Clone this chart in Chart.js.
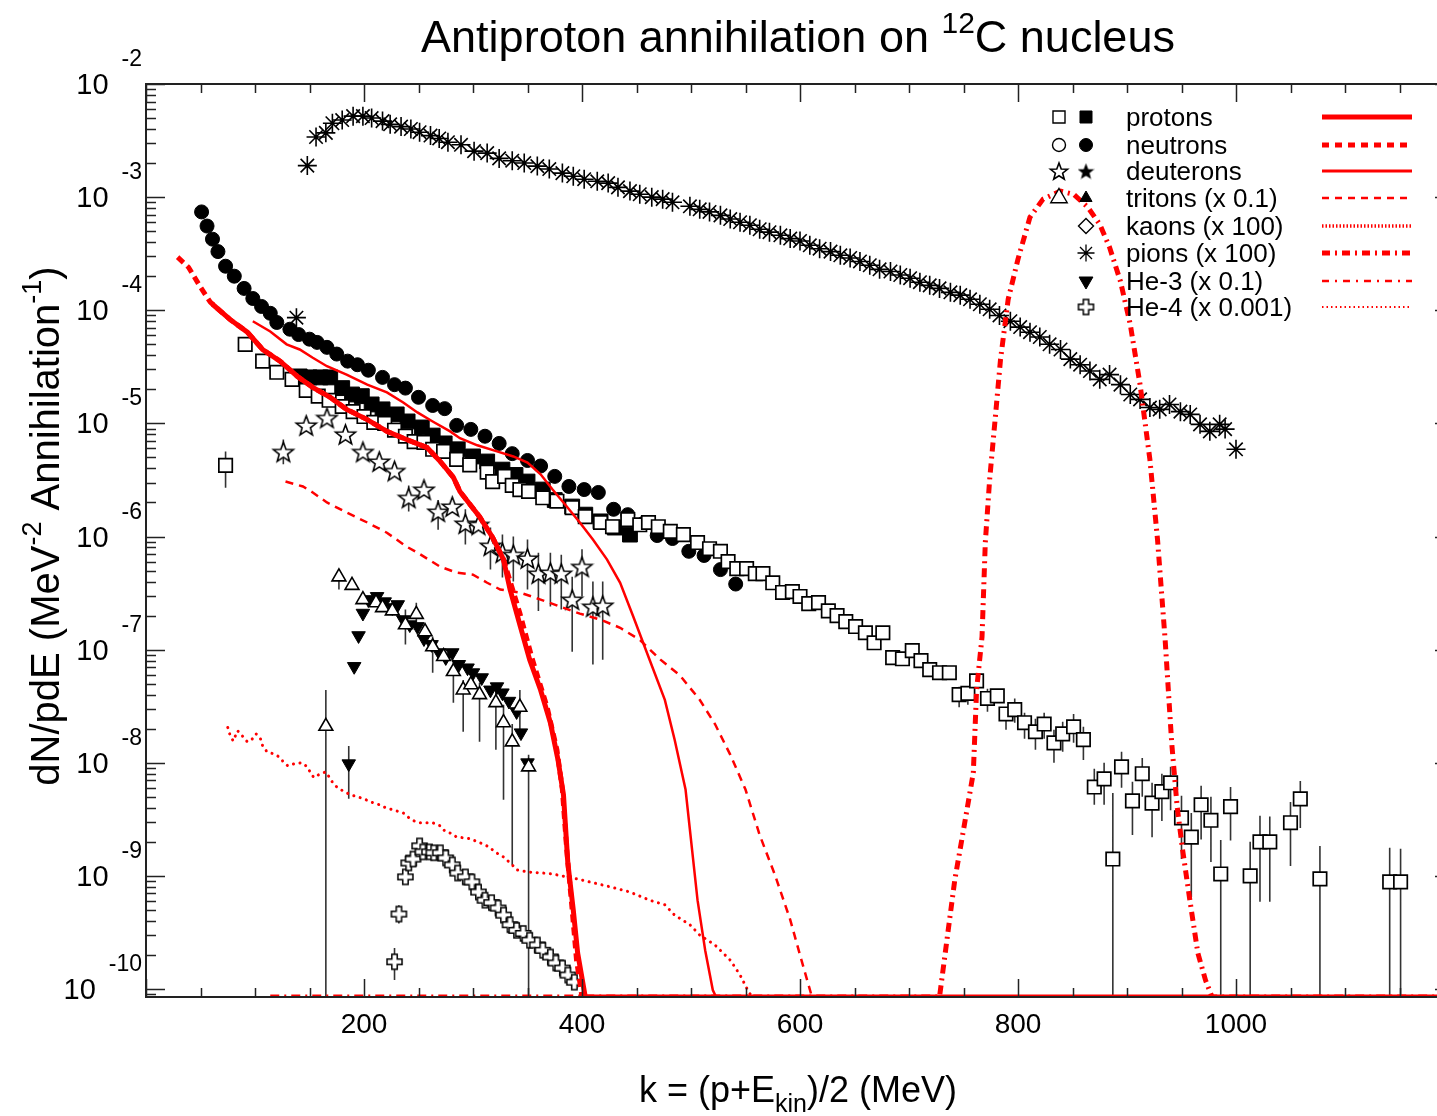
<!DOCTYPE html>
<html>
<head>
<meta charset="utf-8">
<title>Antiproton annihilation on 12C nucleus</title>
<script src="https://cdn.jsdelivr.net/npm/chart.js@4.4.1/dist/chart.umd.min.js"></script>
<style>
    html, body { margin: 0; padding: 0; background: #fff; overflow: hidden; }
    canvas { display: block; }
</style>
</head>
<body>
<canvas id="spectra" width="1470" height="1116"></canvas>
<script>

// k = (p+Ekin)/2 in MeV, spectra in MeV^-2 per annihilation

const protonOpenK = [73, 91, 107, 120, 134, 147, 158, 168, 180, 190, 200, 209, 219, 228, 238, 246, 255, 263, 273, 285, 297, 313, 318, 329, 336, 343, 351, 364, 377, 391, 403, 417, 428, 442, 453, 461, 470, 481, 493, 506, 517, 527, 534, 542, 551, 559, 566, 575, 584, 593, 600, 608, 617, 626, 634, 642, 651, 660, 668, 676, 685, 694, 703, 711, 719, 728, 737, 746, 754, 762, 772, 781, 789, 797, 806, 816, 824, 833, 841, 851, 860, 870, 879, 887, 895, 905, 914, 923, 932, 940, 950, 959, 968, 977, 986, 995, 1013, 1022, 1031, 1050, 1059, 1077, 1141, 1151];
const protonOpenY = [4.25e-6, 5.0e-5, 3.55e-5, 2.83e-5, 2.45e-5, 1.96e-5, 1.74e-5, 1.6e-5, 1.41e-5, 1.27e-5, 1.15e-5, 1.02e-5, 1.0e-5, 8.7e-6, 7.7e-6, 6.9e-6, 6.8e-6, 5.9e-6, 5.65e-6, 4.8e-6, 4.3e-6, 3.7e-6, 3.06e-6, 3.4e-6, 2.83e-6, 2.6e-6, 2.5e-6, 2.2e-6, 2.05e-6, 1.8e-6, 1.5e-6, 1.33e-6, 1.22e-6, 1.41e-6, 1.27e-6, 1.33e-6, 1.22e-6, 1.11e-6, 1.04e-6, 8.85e-7, 7.8e-7, 7.4e-7, 6.0e-7, 5.2e-7, 5.2e-7, 4.7e-7, 4.7e-7, 3.9e-7, 3.2e-7, 3.26e-7, 2.95e-7, 2.55e-7, 2.6e-7, 2.2e-7, 2.0e-7, 1.77e-7, 1.6e-7, 1.41e-7, 1.15e-7, 1.41e-7, 8.5e-8, 8.3e-8, 9.8e-8, 8.0e-8, 6.65e-8, 6.25e-8, 6.25e-8, 4.0e-8, 4.1e-8, 5.3e-8, 3.7e-8, 3.9e-8, 2.7e-8, 2.95e-8, 2.26e-8, 1.88e-8, 2.2e-8, 1.5e-8, 1.8e-8, 2.08e-8, 1.6e-8, 6.1e-9, 7.2e-9, 1.41e-9, 9.2e-9, 4.6e-9, 8.0e-9, 4.4e-9, 5.55e-9, 6.65e-9, 3.26e-9, 2.2e-9, 4.25e-9, 3.1e-9, 1.04e-9, 4.1e-9, 1.0e-9, 2.0e-9, 2.0e-9, 2.95e-9, 4.8e-9, 9.4e-10, 8.85e-10, 8.85e-10];
// error bars of the protons (0 = bar reaches the bottom axis)
const protonBarK = [73, 746, 754, 772, 789, 797, 806, 816, 824, 833, 841, 851, 860, 870, 879, 887, 895, 905, 914, 923, 932, 940, 950, 959, 968, 977, 986, 995, 1013, 1022, 1031, 1050, 1059, 1077, 1141, 1151];
const protonBarHi = [5.65e-6, 4.7e-8, 4.7e-8, 4.5e-8, 3.1e-8, 3.7e-8, 2.77e-8, 2.45e-8, 2.77e-8, 1.96e-8, 2.3e-8, 2.7e-8, 2.08e-8, 8.85e-9, 1.0e-8, 5.4e-9, 1.25e-8, 6.8e-9, 1.1e-8, 6.65e-9, 8.0e-9, 9.2e-9, 5.1e-9, 3.6e-9, 6.25e-9, 5.0e-9, 2.08e-9, 6.1e-9, 2.0e-9, 3.4e-9, 3.35e-9, 4.5e-9, 6.9e-9, 1.84e-9, 1.77e-9, 1.74e-9];
const protonBarLo = [2.7e-6, 3.1e-8, 3.26e-8, 2.83e-8, 1.96e-8, 2.26e-8, 1.63e-8, 1.3e-8, 1.63e-8, 1.0e-8, 1.25e-8, 1.5e-8, 1.06e-8, 4.25e-9, 4.25e-9, 0, 6.0e-9, 2.3e-9, 5.0e-9, 2.2e-9, 3.06e-9, 3.8e-9, 1.41e-9, 6.5e-10, 2.1e-9, 1.33e-9, 0, 2.05e-9, 0, 5.9e-10, 5.9e-10, 1.22e-9, 2.65e-9, 0, 0, 0];

const protonFilledK = [141, 150, 160, 169, 180, 189, 198, 207, 217, 230, 240, 253, 263, 274, 286, 300, 313, 327, 339, 350, 364, 375, 391, 403, 417, 430, 444];
const protonFilledY = [2.6e-5, 2.55e-5, 2.55e-5, 2.55e-5, 2.05e-5, 1.8e-5, 1.74e-5, 1.47e-5, 1.33e-5, 1.2e-5, 1.04e-5, 9.2e-6, 7.8e-6, 6.65e-6, 5.9e-6, 5.1e-6, 4.6e-6, 3.9e-6, 3.5e-6, 3.06e-6, 2.6e-6, 2.1e-6, 1.84e-6, 1.56e-6, 1.36e-6, 1.2e-6, 1.04e-6];

const neutronK = [51, 56, 61, 66, 73, 81, 90, 98, 106, 114, 120, 132, 140, 150, 157, 166, 175, 185, 194, 204, 217, 228, 238, 250, 263, 274, 285, 298, 311, 324, 336, 350, 362, 375, 388, 402, 415, 429, 442, 456, 469, 483, 498, 512, 527, 541];
const neutronY = [7.4e-4, 5.55e-4, 4.25e-4, 3.3e-4, 2.45e-4, 2.0e-4, 1.56e-4, 1.27e-4, 1.08e-4, 9.4e-5, 7.8e-5, 6.8e-5, 6.1e-5, 5.55e-5, 5.2e-5, 4.7e-5, 4.1e-5, 3.55e-5, 3.3e-5, 2.95e-5, 2.55e-5, 2.2e-5, 2.05e-5, 1.7e-5, 1.44e-5, 1.35e-5, 9.6e-6, 8.85e-6, 7.7e-6, 6.65e-6, 5.4e-6, 4.7e-6, 4.2e-6, 3.4e-6, 2.77e-6, 2.6e-6, 2.45e-6, 1.74e-6, 1.56e-6, 1.3e-6, 1.02e-6, 9.6e-7, 7.4e-7, 6.8e-7, 5.1e-7, 3.8e-7];

const deuteronK = [126, 147, 166, 183, 199, 214, 228, 241, 255, 268, 281, 293, 305, 316, 327, 337, 350, 360, 371, 381, 391, 400, 410, 419];
const deuteronY = [5.6e-6, 9.6e-6, 1.12e-5, 8.0e-6, 5.6e-6, 4.6e-6, 3.8e-6, 2.2e-6, 2.6e-6, 1.66e-6, 1.84e-6, 1.3e-6, 1.27e-6, 8.3e-7, 7.2e-7, 6.9e-7, 6.4e-7, 4.7e-7, 4.8e-7, 4.7e-7, 2.77e-7, 5.4e-7, 2.4e-7, 2.45e-7];
const deuteronBarK = [126, 241, 268, 293, 316, 327, 337, 350, 360, 371, 381, 391, 400, 410, 419];
const deuteronBarHi = [7.2e-6, 2.83e-6, 2.1e-6, 1.74e-6, 1.2e-6, 1.04e-6, 1.0e-6, 9.4e-7, 7.2e-7, 7.2e-7, 6.9e-7, 4.4e-7, 7.7e-7, 4.0e-7, 4.0e-7];
const deuteronBarLo = [4.35e-6, 1.66e-6, 1.15e-6, 8.5e-7, 5.1e-7, 4.35e-7, 4.0e-7, 3.4e-7, 2.2e-7, 2.4e-7, 2.26e-7, 9.6e-8, 2.95e-7, 7.4e-8, 8.15e-8];

const tritonK = [165, 177, 189, 199, 211, 217, 226, 238, 248, 256, 263, 273, 282, 291, 298, 306, 321, 328, 336, 343, 351];
const tritonY = [2.1e-8, 4.4e-7, 3.7e-7, 2.77e-7, 2.6e-7, 2.35e-7, 2.2e-7, 1.66e-7, 2.05e-7, 1.44e-7, 1.06e-7, 8.7e-8, 6.4e-8, 4.4e-8, 4.9e-8, 4.0e-8, 3.4e-8, 2.26e-8, 1.53e-8, 3.1e-8, 9.2e-9];
const tritonBarK = [165, 177, 238, 248, 263, 282, 291, 306, 321, 328, 336, 343, 351];
const tritonBarHi = [4.4e-8, 5.1e-7, 2.26e-7, 2.6e-7, 1.3e-7, 8.15e-8, 5.4e-8, 5.1e-8, 4.4e-8, 3.26e-8, 2.2e-8, 4.4e-8, 1.18e-8];
const tritonBarLo = [0, 3.4e-7, 1.11e-7, 1.5e-7, 6.25e-8, 3.4e-8, 1.88e-8, 1.53e-8, 1.3e-8, 4.7e-9, 1.25e-9, 1.96e-8, 0];

const he3K = [186, 191, 195, 199, 204, 212, 219, 226, 231, 236, 242, 249, 255, 262, 269, 275, 281, 287, 295, 300, 308, 316, 322, 327, 333, 340, 344, 350];
const he3Y = [9.8e-9, 7.1e-8, 1.33e-7, 2.1e-7, 2.77e-7, 2.95e-7, 2.65e-7, 2.35e-7, 2.5e-7, 1.84e-7, 1.66e-7, 1.6e-7, 1.25e-7, 1.11e-7, 9.4e-8, 8.5e-8, 9.4e-8, 7.4e-8, 6.9e-8, 6.25e-8, 5.65e-8, 4.4e-8, 4.7e-8, 4.15e-8, 3.5e-8, 2.83e-8, 1.84e-8, 1.0e-8];
const he3BarK = [186];
const he3BarHi = [1.41e-8];
const he3BarLo = [4.8e-9];

const he4K = [228, 232, 238, 241, 245, 251, 254, 260, 264, 270, 275, 281, 286, 293, 299, 305, 311, 317, 323, 328, 334, 340, 346, 352, 359, 364, 371, 376, 382, 387, 393];
const he4Y = [1.74e-10, 4.6e-10, 9.8e-10, 1.3e-9, 1.41e-9, 1.84e-9, 1.63e-9, 1.63e-9, 1.6e-9, 1.6e-9, 1.44e-9, 1.25e-9, 1.06e-9, 9.8e-10, 8.85e-10, 7.2e-10, 6.1e-10, 5.8e-10, 5.2e-10, 4.5e-10, 3.7e-10, 3.3e-10, 3.1e-10, 2.7e-10, 2.45e-10, 2.2e-10, 1.92e-10, 1.7e-10, 1.53e-10, 1.33e-10, 1.15e-10];
const he4BarK = [228, 232];
const he4BarHi = [2.3e-10, 5.5e-10];
const he4BarLo = [1.2e-10, 3.8e-10];

const pionK = [138, 148, 156, 165, 171, 180, 190, 199, 207, 217, 224, 234, 243, 251, 261, 269, 277, 289, 301, 313, 324, 336, 347, 359, 370, 382, 392, 402, 414, 424, 433, 444, 453, 464, 474, 483, 499, 508, 517, 527, 536, 545, 554, 563, 572, 582, 591, 600, 609, 618, 628, 637, 646, 655, 664, 673, 683, 692, 701, 710, 719, 728, 738, 747, 756, 765, 774, 783, 793, 802, 811, 820, 829, 839, 848, 857, 866, 875, 884, 894, 903, 912, 921, 930, 939, 949, 958, 967, 976, 985, 990, 1000];
const pionY = [8.6e-5, 1.9e-3, 3.4e-3, 3.7e-3, 4.5e-3, 4.8e-3, 5.2e-3, 5.2e-3, 5.0e-3, 4.7e-3, 4.4e-3, 4.2e-3, 4.0e-3, 3.75e-3, 3.5e-3, 3.3e-3, 3.06e-3, 2.9e-3, 2.55e-3, 2.45e-3, 2.2e-3, 2.1e-3, 2.0e-3, 1.88e-3, 1.77e-3, 1.63e-3, 1.53e-3, 1.44e-3, 1.38e-3, 1.33e-3, 1.22e-3, 1.13e-3, 1.06e-3, 1.0e-3, 9.6e-4, 9.0e-4, 8.3e-4, 7.8e-4, 7.4e-4, 6.9e-4, 6.4e-4, 6.0e-4, 5.65e-4, 5.2e-4, 4.9e-4, 4.6e-4, 4.3e-4, 4.1e-4, 3.75e-4, 3.5e-4, 3.3e-4, 3.06e-4, 2.9e-4, 2.7e-4, 2.5e-4, 2.3e-4, 2.2e-4, 2.05e-4, 1.92e-4, 1.77e-4, 1.66e-4, 1.56e-4, 1.44e-4, 1.36e-4, 1.25e-4, 1.13e-4, 1.02e-4, 9.0e-5, 8.0e-5, 7.1e-5, 6.4e-5, 5.8e-5, 5.0e-5, 4.5e-5, 3.7e-5, 3.3e-5, 2.9e-5, 2.45e-5, 2.7e-5, 2.2e-5, 1.8e-5, 1.63e-5, 1.38e-5, 1.33e-5, 1.47e-5, 1.27e-5, 1.2e-5, 9.8e-6, 8.5e-6, 9.8e-6, 8.9e-6, 5.9e-6];

// model curves, 0 where the model gives nothing (drawn on the bottom axis)
const protonModelK = [61, 77, 93, 107, 123, 139, 153, 169, 184, 203, 221, 239, 258, 270, 282, 288, 306, 318, 328, 334, 343, 352, 362, 371, 378, 383, 387, 392, 396, 403, 1200];
const protonModelY = [1.13e-4, 8.3e-5, 6.4e-5, 4.5e-5, 3.55e-5, 2.6e-5, 2.08e-5, 1.7e-5, 1.33e-5, 1.08e-5, 8.5e-6, 7.2e-6, 6.1e-6, 4.6e-6, 3.33e-6, 2.5e-6, 1.5e-6, 9.8e-7, 6.25e-7, 3.4e-7, 1.66e-7, 8.15e-8, 4.4e-8, 2.26e-8, 1.06e-8, 5.2e-9, 1.3e-9, 5.0e-10, 2.08e-10, 0, 0];

const neutronModelK = [29, 39, 50, 59, 77, 93, 107, 123, 139, 153, 169, 184, 203, 221, 239, 258, 270, 282, 288, 306, 318, 328, 343, 354, 368, 377, 382, 386, 391, 395, 400];
const neutronModelY = [2.95e-4, 2.4e-4, 1.6e-4, 1.18e-4, 8.3e-5, 6.4e-5, 4.5e-5, 3.55e-5, 2.6e-5, 2.08e-5, 1.7e-5, 1.33e-5, 1.08e-5, 8.5e-6, 7.2e-6, 6.1e-6, 4.6e-6, 3.33e-6, 2.5e-6, 1.5e-6, 9.8e-7, 6.25e-7, 2.1e-7, 8.5e-8, 3.1e-8, 1.3e-8, 5.8e-9, 1.7e-9, 5.0e-10, 1.8e-10, 0];

const deuteronModelK = [98, 114, 129, 141, 153, 166, 184, 203, 221, 236, 249, 263, 279, 288, 304, 322, 337, 350, 362, 373, 386, 398, 410, 423, 435, 447, 462, 476, 485, 495, 501, 506, 513, 520, 523];
const deuteronModelY = [8.0e-5, 6.5e-5, 5.0e-5, 4.5e-5, 3.8e-5, 3.2e-5, 2.7e-5, 2.2e-5, 1.88e-5, 1.53e-5, 1.25e-5, 1.04e-5, 8.5e-6, 7.4e-6, 6.4e-6, 5.65e-6, 5.1e-6, 4.5e-6, 3.55e-6, 2.6e-6, 1.84e-6, 1.33e-6, 9.4e-7, 6.25e-7, 3.9e-7, 1.96e-7, 8.15e-8, 3.6e-8, 1.6e-8, 5.8e-9, 1.7e-9, 6.1e-10, 2.2e-10, 9.8e-11, 0];

const tritonModelK = [128, 144, 153, 166, 184, 203, 221, 239, 249, 270, 285, 300, 313, 325, 343, 362, 380, 398, 417, 435, 453, 472, 490, 508, 522, 536, 550, 563, 577, 591, 600, 611];
const tritonModelY = [3.06e-6, 2.77e-6, 2.45e-6, 2.0e-6, 1.63e-6, 1.33e-6, 1.08e-6, 8.15e-7, 7.2e-7, 5.4e-7, 4.8e-7, 4.6e-7, 3.9e-7, 3.4e-7, 3.2e-7, 2.77e-7, 2.4e-7, 2.08e-7, 1.84e-7, 1.56e-7, 1.22e-7, 8.15e-8, 5.9e-8, 3.6e-8, 2.2e-8, 1.18e-8, 5.8e-9, 2.3e-9, 1.02e-9, 4.1e-10, 2.0e-10, 0];

const kaonModelK = [75, 77, 80, 84, 89, 93, 97, 101, 105, 107, 111, 117, 122, 126, 130, 136, 143, 148, 151, 154, 160, 165, 168, 172, 176, 182, 188, 194, 200, 206, 212, 217, 224, 230, 236, 240, 246, 251, 258, 263, 270, 274, 281, 285, 292, 298, 304, 309, 315, 320, 328, 336, 340, 352, 364, 373, 386, 396, 407, 426, 444, 462, 476, 485, 499, 508, 522, 536, 545, 552, 556];
const kaonModelY = [2.05e-8, 1.77e-8, 1.56e-8, 1.92e-8, 1.7e-8, 1.53e-8, 1.6e-8, 1.8e-8, 1.63e-8, 1.41e-8, 1.25e-8, 1.2e-8, 1.13e-8, 1.02e-8, 9.4e-9, 9.8e-9, 1.0e-8, 9.2e-9, 8.15e-9, 7.4e-9, 8.0e-9, 8.3e-9, 7.5e-9, 6.5e-9, 6.0e-9, 5.55e-9, 5.2e-9, 5.0e-9, 4.8e-9, 4.5e-9, 4.35e-9, 4.1e-9, 3.9e-9, 3.75e-9, 3.6e-9, 3.33e-9, 3.06e-9, 2.95e-9, 2.95e-9, 2.95e-9, 2.77e-9, 2.5e-9, 2.35e-9, 2.2e-9, 2.17e-9, 2.13e-9, 2.0e-9, 1.92e-9, 1.8e-9, 1.63e-9, 1.47e-9, 1.25e-9, 1.13e-9, 1.08e-9, 1.06e-9, 1.04e-9, 9.8e-10, 9.4e-10, 8.85e-10, 8.0e-10, 7.2e-10, 6.1e-10, 5.55e-10, 4.5e-10, 3.7e-10, 3.0e-10, 2.45e-10, 1.8e-10, 1.33e-10, 9.8e-11, 0];

const pionModelK = [114, 728, 736, 742, 750, 759, 762, 767, 770, 774, 779, 784, 791, 800, 811, 823, 839, 851, 864, 875, 884, 894, 903, 912, 921, 928, 935, 941, 946, 951, 958, 965, 972, 978, 1200];
const pionModelY = [0, 0, 3.33e-10, 9.2e-10, 2.55e-9, 8.15e-9, 4.4e-8, 1.3e-7, 8.85e-7, 3.2e-6, 1.08e-5, 3.7e-5, 1.25e-4, 2.83e-4, 6.65e-4, 9.6e-4, 1.13e-3, 1.06e-3, 8.15e-4, 5.75e-4, 3.6e-4, 1.8e-4, 7.5e-5, 2.2e-5, 4.8e-6, 9.4e-7, 1.22e-7, 1.5e-8, 4.1e-9, 1.7e-9, 5.8e-10, 2.08e-10, 1.2e-10, 0, 0];

const xTickLabels = ['200', '400', '600', '800', '1000'];
const yTickExponents = [-2, -3, -4, -5, -6, -7, -8, -9, -10];

const legendRows = ['protons', 'neutrons', 'deuterons', 'tritons (x 0.1)', 'kaons (x 100)', 'pions (x 100)', 'He-3 (x 0.1)', 'He-4 (x 0.001)'];


const FONT = '"Liberation Sans", Arial, Helvetica, sans-serif';
const X_MIN = 0, X_MAX = 1200;
const Y_MIN = 8.5e-11, Y_MAX = 1e-2;
const RED = '#ff0000';


class Spectra {

    static points(ks, ys) {
        return ks.map((k, i) => ({x: k, y: ys[i] > 0 ? ys[i] : Y_MIN}));
    }

    // one vertical segment per point, split by nulls
    static bars(ks, hi, lo) {
        const pts = [];
        ks.forEach((k, i) => {
            pts.push({x: k, y: hi[i]});
            pts.push({x: k, y: lo[i] > 0 ? lo[i] : Y_MIN});
            pts.push({x: k, y: null});
        });
        return pts;
    }

    static makeStar(outer, inner, filled) {
        const c = document.createElement('canvas');
        const s = Math.ceil(outer * 2 + 4);
        c.width = s; c.height = s;
        const ctx = c.getContext('2d');
        ctx.translate(s / 2, s / 2 + 1);
        ctx.beginPath();
        for (let i = 0; i < 10; i++) {
            const r = i % 2 === 0 ? outer : inner;
            const a = -Math.PI / 2 + i * Math.PI / 5;
            ctx.lineTo(r * Math.cos(a), r * Math.sin(a));
        }
        ctx.closePath();
        ctx.fillStyle = filled ? '#000' : '#fff';
        ctx.fill();
        ctx.lineWidth = 1.6;
        ctx.lineJoin = 'miter';
        ctx.strokeStyle = '#000';
        ctx.stroke();
        return c;
    }

    static makePlus(arm, half) {
        const c = document.createElement('canvas');
        const s = Math.ceil(arm * 2 + 4);
        c.width = s; c.height = s;
        const ctx = c.getContext('2d');
        ctx.translate(s / 2, s / 2);
        ctx.beginPath();
        ctx.moveTo(-half, -arm); ctx.lineTo(half, -arm); ctx.lineTo(half, -half);
        ctx.lineTo(arm, -half); ctx.lineTo(arm, half); ctx.lineTo(half, half);
        ctx.lineTo(half, arm); ctx.lineTo(-half, arm); ctx.lineTo(-half, half);
        ctx.lineTo(-arm, half); ctx.lineTo(-arm, -half); ctx.lineTo(-half, -half);
        ctx.closePath();
        ctx.fillStyle = '#fff';
        ctx.fill();
        ctx.lineWidth = 1.5;
        ctx.strokeStyle = '#000';
        ctx.stroke();
        return c;
    }

    // text made of pieces: [text, fontSize, baselineShift]; a number is a blank gap
    static richWidth(ctx, parts) {
        let w = 0;
        for (const [t, size] of parts) {
            if (typeof t === 'number') { w += t; continue; }
            ctx.font = `${size}px ${FONT}`;
            w += ctx.measureText(t).width;
        }
        return w;
    }

    static drawRich(ctx, parts, x, y, align) {
        const w = Spectra.richWidth(ctx, parts);
        let cx = align === 'center' ? x - w / 2 : (align === 'right' ? x - w : x);
        ctx.textAlign = 'left';
        ctx.textBaseline = 'alphabetic';
        for (const [t, size, dy] of parts) {
            if (typeof t === 'number') { cx += t; continue; }
            ctx.font = `${size}px ${FONT}`;
            ctx.fillText(t, cx, y + dy);
            cx += ctx.measureText(t).width;
        }
    }
}


const openStar = Spectra.makeStar(10.5, 4.4, false);
const legendStar = Spectra.makeStar(9, 3.8, false);
const smallStar = Spectra.makeStar(6.5, 2.8, true);
const openPlus = Spectra.makePlus(7.5, 2.7);


const datasets = [
    // model curves, on top
    {data: Spectra.points(protonModelK, protonModelY), showLine: true, pointRadius: 0, borderColor: RED, borderWidth: 5, order: 0},
    {data: Spectra.points(neutronModelK, neutronModelY), showLine: true, pointRadius: 0, borderColor: RED, borderWidth: 5, borderDash: [8, 5], order: 0},
    {data: Spectra.points(deuteronModelK, deuteronModelY), showLine: true, pointRadius: 0, borderColor: RED, borderWidth: 2.5, order: 0},
    {data: Spectra.points(tritonModelK, tritonModelY), showLine: true, pointRadius: 0, borderColor: RED, borderWidth: 2.5, borderDash: [8, 6], order: 0},
    {data: Spectra.points(kaonModelK, kaonModelY), showLine: true, pointRadius: 0, borderColor: RED, borderWidth: 3, borderDash: [0.1, 6.5], borderCapStyle: 'round', order: 0},
    {data: Spectra.points(pionModelK, pionModelY), showLine: true, pointRadius: 0, borderColor: RED, borderWidth: 5, borderDash: [9, 5, 2, 5], order: 0},

    // measured points
    {data: Spectra.points(protonOpenK, protonOpenY), pointStyle: 'rect', pointRadius: 9.5, backgroundColor: '#fff', borderColor: '#000', borderWidth: 1.7, order: 1},
    {data: Spectra.points(protonFilledK, protonFilledY), pointStyle: 'rect', pointRadius: 10.5, backgroundColor: '#000', borderColor: '#000', borderWidth: 1, order: 1},
    {data: Spectra.points(neutronK, neutronY), pointStyle: 'circle', pointRadius: 7, backgroundColor: '#000', borderColor: '#000', borderWidth: 1, order: 1},
    {data: Spectra.points(deuteronK, deuteronY), pointStyle: openStar, order: 1},
    {data: Spectra.points(tritonK, tritonY), pointStyle: 'triangle', pointRadius: 8, backgroundColor: '#fff', borderColor: '#000', borderWidth: 1.6, order: 1},
    {data: Spectra.points(he3K, he3Y), pointStyle: 'triangle', rotation: 180, pointRadius: 7.8, backgroundColor: '#000', borderColor: '#000', borderWidth: 1, order: 1},
    {data: Spectra.points(he4K, he4Y), pointStyle: openPlus, order: 1},
    {data: Spectra.points(pionK, pionY), pointStyle: 'star', pointRadius: 9.5, borderColor: '#000', borderWidth: 1.6, order: 1},

    // error bars, underneath
    {data: Spectra.bars(protonBarK, protonBarHi, protonBarLo), showLine: true, spanGaps: false, pointRadius: 0, borderColor: '#333', borderWidth: 1.6, order: 2},
    {data: Spectra.bars(deuteronBarK, deuteronBarHi, deuteronBarLo), showLine: true, spanGaps: false, pointRadius: 0, borderColor: '#333', borderWidth: 1.6, order: 2},
    {data: Spectra.bars(tritonBarK, tritonBarHi, tritonBarLo), showLine: true, spanGaps: false, pointRadius: 0, borderColor: '#333', borderWidth: 1.6, order: 2},
    {data: Spectra.bars(he3BarK, he3BarHi, he3BarLo), showLine: true, spanGaps: false, pointRadius: 0, borderColor: '#333', borderWidth: 1.6, order: 2},
    {data: Spectra.bars(he4BarK, he4BarHi, he4BarLo), showLine: true, spanGaps: false, pointRadius: 0, borderColor: '#333', borderWidth: 1.6, order: 2}
];


const framePlugin = {
    id: 'frame',
    afterDraw(chart) {
        const {ctx, chartArea: a} = chart;
        const xs = chart.scales.x;
        const ys = chart.scales.y;
        ctx.save();

        // axis box
        ctx.strokeStyle = '#222';
        ctx.lineWidth = 2;
        ctx.strokeRect(a.left, a.top, a.right - a.left, a.bottom - a.top);

        // ticks, pointing inward on all four sides
        ctx.lineWidth = 1.5;
        ctx.beginPath();
        for (let k = X_MIN; k <= X_MAX; k += 50) {
            const px = Math.round(xs.getPixelForValue(k)) + 0.5;
            const len = k % 200 === 0 ? 18 : 9;
            ctx.moveTo(px, a.bottom); ctx.lineTo(px, a.bottom - len);
            ctx.moveTo(px, a.top); ctx.lineTo(px, a.top + len);
        }
        for (let e = -11; e <= -2; e++) {
            for (let m = 1; m <= 9; m++) {
                const v = m * Math.pow(10, e);
                if (v < Y_MIN || v > Y_MAX * 1.0001) continue;
                const py = Math.round(ys.getPixelForValue(v)) + 0.5;
                const len = m === 1 ? 19 : 10;
                ctx.moveTo(a.left, py); ctx.lineTo(a.left + len, py);
                ctx.moveTo(a.right, py); ctx.lineTo(a.right - len, py);
            }
        }
        ctx.stroke();

        ctx.fillStyle = '#000';

        // x tick labels
        ctx.font = `28px ${FONT}`;
        ctx.textAlign = 'center';
        ctx.textBaseline = 'alphabetic';
        for (const lab of xTickLabels) {
            ctx.fillText(lab, xs.getPixelForValue(Number(lab)), 1033);
        }

        // y tick labels as 10 with a raised exponent
        for (const e of yTickExponents) {
            const py = ys.getPixelForValue(Math.pow(10, e));
            Spectra.drawRich(ctx, [['10', 29, py + 10], [13, 0, 0], [String(e), 23, py - 18]], 142, 0, 'right');
        }

        // titles
        Spectra.drawRich(ctx, [['Antiproton annihilation on ', 45, 0], ['12', 30, -19], ['C nucleus', 45, 0]], 798, 52, 'center');
        Spectra.drawRich(ctx, [['k = (p+E', 36, 0], ['kin', 25, 10], [')/2 (MeV)', 36, 0]], 798, 1102, 'center');

        ctx.save();
        ctx.translate(59, 526);
        ctx.rotate(-Math.PI / 2);
        Spectra.drawRich(ctx, [['dN/pdE (MeV', 40, 0], ['-2', 27, -18], [' Annihilation', 40, 0], ['-1', 27, -18], [')', 40, 0]], 0, 0, 'center');
        ctx.restore();

        Spectra.drawLegend(ctx);
        ctx.restore();
    }
};


Spectra.drawLegend = function (ctx) {
    const rowY = [117, 145, 171, 198, 226, 253, 281, 307];
    const openX = 1059, fillX = 1086, textX = 1126, lineX0 = 1322, lineX1 = 1412;

    const mark = (style, x, y, r, fill, rot, bw) => {
        ctx.fillStyle = fill;
        ctx.strokeStyle = '#000';
        ctx.lineWidth = bw;
        Chart.helpers.drawPoint(ctx, {pointStyle: style, radius: r, rotation: rot || 0, borderWidth: bw}, x, y);
    };

    mark('rect', openX, rowY[0], 8.5, '#fff', 0, 1.4);
    mark('rect', fillX, rowY[0], 8.5, '#000', 0, 1);
    mark('circle', openX, rowY[1], 6.5, '#fff', 0, 1.4);
    mark('circle', fillX, rowY[1], 6.5, '#000', 0, 1);
    mark(legendStar, openX, rowY[2], 0, '#fff', 0, 1);
    mark(smallStar, fillX, rowY[2], 0, '#000', 0, 1);
    mark('triangle', openX, rowY[3], 9.5, '#fff', 0, 1.4);
    mark('triangle', fillX, rowY[3], 7, '#000', 0, 1);
    mark('rectRot', fillX, rowY[4], 7.5, '#fff', 0, 1.4);
    mark('star', fillX, rowY[5], 8.5, '#fff', 0, 1.3);
    mark('triangle', fillX, rowY[6], 8, '#000', 180, 1);
    mark(openPlus, fillX, rowY[7], 0, '#fff', 0, 1);

    ctx.fillStyle = '#000';
    ctx.font = `26px ${FONT}`;
    ctx.textAlign = 'left';
    ctx.textBaseline = 'alphabetic';
    legendRows.forEach((t, i) => ctx.fillText(t, textX, rowY[i] + 9));

    const lines = [
        [5, []], [5, [7, 6]], [3, []], [2.5, [7, 6]],
        [3.5, [1.5, 2]], [5, [8, 5, 2, 5]], [2.5, [7, 6, 2, 6]], [2, [1.5, 3]]
    ];
    ctx.strokeStyle = RED;
    lines.forEach(([w, dash], i) => {
        ctx.lineWidth = w;
        ctx.setLineDash(dash);
        ctx.beginPath();
        ctx.moveTo(lineX0, rowY[i]);
        ctx.lineTo(lineX1, rowY[i]);
        ctx.stroke();
    });
    ctx.setLineDash([]);
};


const canvas = document.getElementById('spectra');

new Chart(canvas, {
    type: 'scatter',
    data: {datasets},
    options: {
        responsive: false,
        animation: false,
        devicePixelRatio: 1,
        layout: {padding: {left: 146, top: 84, right: canvas.width - 1454, bottom: 119}},
        scales: {
            x: {type: 'linear', min: X_MIN, max: X_MAX, display: false},
            y: {type: 'logarithmic', min: Y_MIN, max: Y_MAX, display: false}
        },
        plugins: {
            legend: {display: false},
            tooltip: {enabled: false}
        }
    },
    plugins: [framePlugin]
});
</script>
</body>
</html>
